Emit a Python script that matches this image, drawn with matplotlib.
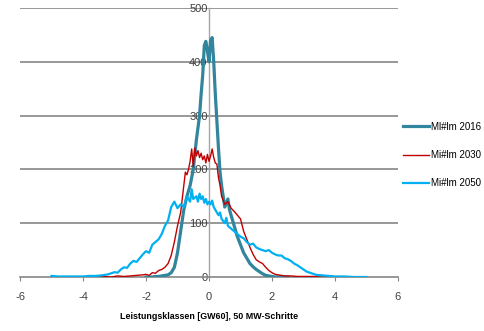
import matplotlib
matplotlib.use("Agg")
import matplotlib.pyplot as plt

# --- data (MW classes in GW, counts) ---
x_2016 = [-2.0, -1.9, -1.8, -1.7, -1.6, -1.5, -1.4, -1.3, -1.2, -1.1, -1.0, -0.9, -0.8, -0.7,
          -0.6, -0.5, -0.4, -0.3, -0.25, -0.2, -0.15, -0.1, -0.05, 0.0, 0.05, 0.1, 0.15,
          0.2, 0.25, 0.3, 0.35, 0.4, 0.5, 0.6, 0.65, 0.7, 0.8, 0.9, 1.0, 1.1, 1.2, 1.3,
          1.4, 1.5, 1.6, 1.7, 1.8, 1.9, 2.0, 2.1, 2.2, 2.3, 2.4, 2.5]
y_2016 = [0, 0, 0, 1, 1, 2, 3, 4, 8, 18, 45, 85, 125, 150,
          170, 200, 255, 300, 340, 375, 430, 438, 420, 400, 440, 445, 400,
          340, 290, 240, 195, 170, 130, 145, 125, 115, 95, 75, 60, 45, 35, 25,
          19, 14, 10, 6, 3, 2, 1, 0, 0, 1, 0, 0]

x_2030 = [-3.5, -3.3, -3.1, -2.9, -2.7, -2.5, -2.3, -2.1, -2.0, -1.9, -1.8, -1.7, -1.6, -1.5,
          -1.4, -1.3, -1.2, -1.1, -1.0, -0.9, -0.8, -0.75, -0.7, -0.65, -0.6, -0.55, -0.5,
          -0.45, -0.4, -0.35, -0.3, -0.25, -0.2, -0.15, -0.1, -0.05, 0.0, 0.05, 0.1, 0.15,
          0.2, 0.25, 0.3, 0.35, 0.4, 0.5, 0.6, 0.7, 0.8, 0.9, 1.0, 1.1, 1.2, 1.3, 1.4, 1.5,
          1.6, 1.7, 1.8, 1.9, 2.0, 2.1, 2.2, 2.4, 2.6, 2.8, 3.0, 3.3, 3.6, 3.9, 4.0]
y_2030 = [0, 1, 0, 2, 1, 2, 3, 4, 5, 3, 8, 7, 12, 14,
          18, 25, 40, 65, 95, 120, 170, 195, 190, 200, 215, 238, 205,
          240, 225, 235, 222, 230, 218, 225, 212, 228, 215, 225, 238, 222,
          212, 210, 185, 170, 150, 135, 140, 128, 122, 115, 108, 85, 70, 55, 42, 32,
          28, 25, 18, 12, 8, 5, 4, 2, 2, 1, 1, 1, 0, 1, 0]

x_2050 = [-5.0, -4.8, -4.6, -4.4, -4.2, -4.0, -3.8, -3.6, -3.4, -3.2, -3.0, -2.9, -2.8, -2.7,
          -2.6, -2.5, -2.4, -2.3, -2.2, -2.1, -2.0, -1.9, -1.8, -1.7, -1.6, -1.5, -1.4,
          -1.3, -1.2, -1.1, -1.0, -0.9, -0.8, -0.7, -0.6, -0.55, -0.5, -0.4, -0.35, -0.3,
          -0.25, -0.2, -0.15, -0.1, -0.05, 0.0, 0.05, 0.1, 0.15, 0.2, 0.3, 0.35, 0.4, 0.5,
          0.55, 0.6, 0.7, 0.8, 0.9, 1.0, 1.1, 1.2, 1.3, 1.4, 1.5, 1.6, 1.7, 1.8, 1.9, 2.0,
          2.1, 2.2, 2.3, 2.4, 2.5, 2.6, 2.7, 2.8, 2.9, 3.0, 3.1, 3.2, 3.3, 3.4, 3.6, 3.8,
          4.0, 4.3, 4.6, 5.0]
y_2050 = [2, 1, 1, 1, 1, 1, 2, 2, 3, 5, 9, 8, 14, 18,
          17, 25, 30, 28, 35, 42, 48, 45, 60, 65, 70, 80, 95,
          105, 130, 140, 128, 135, 130, 150, 140, 163, 145, 150, 140, 155,
          145, 150, 138, 145, 135, 140, 135, 142, 130, 125, 115, 120, 108, 100,
          110, 95, 90, 85, 80, 75, 72, 65, 60, 62, 55, 52, 50, 48, 50, 45,
          42, 40, 40, 35, 33, 30, 25, 22, 18, 14, 10, 8, 6, 4, 3, 2,
          1, 1, 0, 0]

labels = ["Ml#lm 2016", "Mi#lm 2030", "Mi#lm 2050"]
xticks = [-6, -4, -2, 0, 2, 4, 6]
yticks = [0, 100, 200, 300, 400, 500]

plt.rcParams['font.family'] = ['Liberation Sans', 'DejaVu Sans']

fig = plt.figure(figsize=(4.85, 3.31), dpi=100)
ax = fig.add_axes([20 / 485, 1 - 277 / 331, 378 / 485, 269 / 331])

grey = '#868686'
for yv in yticks[1:]:
    ax.axhline(yv, color=grey, lw=1.2, zorder=1)

ax.plot(x_2016, y_2016, color='#31859C', lw=2.3, label=labels[0], zorder=3)
ax.plot(x_2030, y_2030, color='#C00000', lw=1.0, label=labels[1], zorder=4)
ax.plot(x_2050, y_2050, color='#00B0F0', lw=1.6, label=labels[2], zorder=5)

ax.set_xlim(-6, 6)
ax.set_ylim(0, 500)
ax.set_xticks(xticks)
ax.set_yticks(yticks)
ax.set_xticklabels([str(t) for t in xticks])

for s in ['top', 'right']:
    ax.spines[s].set_visible(False)
ax.spines['left'].set_position(('data', 0))
ax.spines['left'].set_color('#A6A6A6')
ax.spines['left'].set_linewidth(1.0)
ax.spines['left'].set_zorder(2)
ax.spines['bottom'].set_color(grey)
ax.spines['bottom'].set_linewidth(1.2)

ax.tick_params(axis='y', length=0, pad=1, labelsize=8, labelcolor='#404040')
ax.tick_params(axis='x', length=3, color=grey, pad=8, labelsize=8, labelcolor='#404040')

ax.set_xlabel('Leistungsklassen [GW60], 50 MW-Schritte', fontsize=6.4, fontweight='bold',
              labelpad=7)

ax.legend(loc='center left', bbox_to_anchor=(403 / 485, 1 - 155 / 331),
          bbox_transform=fig.transFigure, frameon=False, fontsize=7,
          handlelength=2.7, handletextpad=0.2, labelspacing=1.9, borderpad=0,
          borderaxespad=0)

fig.savefig('out.png', dpi=100)
